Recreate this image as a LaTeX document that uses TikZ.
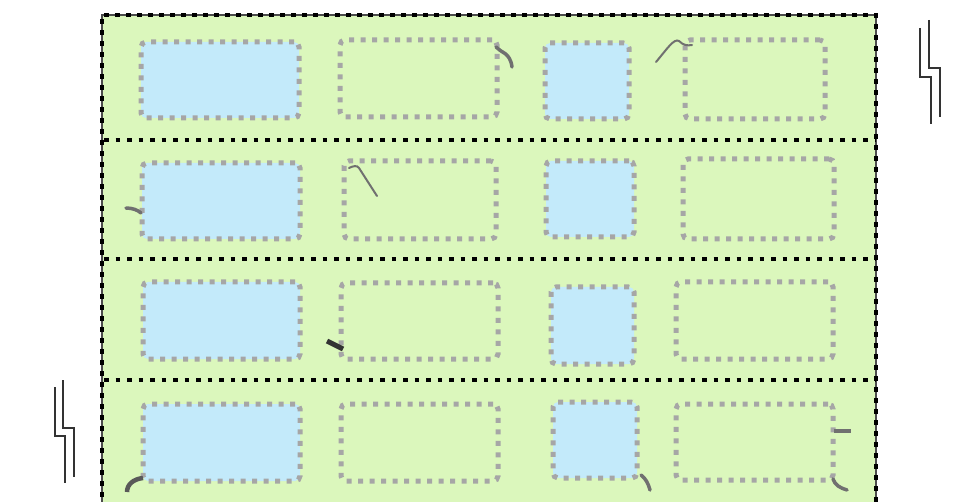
\documentclass[tikz,border=0pt]{standalone}
\usepackage{tikz}
\definecolor{panelgreen}{HTML}{DBF7BC}
\definecolor{cellblue}{HTML}{C3EAFA}
\definecolor{dotgray}{HTML}{A6A6A6}
\definecolor{inkgray}{HTML}{707070}

\begin{document}
\begin{tikzpicture}[
    x=1pt, y=-1pt,
    cell/.style={rectangle, draw=dotgray, line width=5pt, dash pattern=on 5pt off 6.5pt, rounded corners=5pt, inner sep=0pt, outer sep=0pt},
    full/.style={cell, fill=cellblue},
    divider/.style={draw=black, line width=4.7pt, dash pattern=on 4.7pt off 6.8pt},
    rim/.style={draw=black!70, line width=1.5pt},
    rimdash/.style={draw=black, line width=3.5pt, dash pattern=on 5pt off 6pt},
    scribble/.style={draw=inkgray, line width=3.5pt, line cap=round},
    thinscribble/.style={scribble, line width=2pt},
    breakline/.style={draw=black!80, line width=2pt}
]
\useasboundingbox (0,0) rectangle (971,502);
\clip (0,0) rectangle (971,502);

\fill[panelgreen] (102,15) rectangle (876,530);
\draw[rim] (102,530) |- (876,15) -- (876,530);
\draw[rimdash] (102,530) |- (876,15) -- (876,530);

\draw[divider] (104,140) -- (876,140);
\draw[divider] (104,259) -- (876,259);
\draw[divider] (104,380) -- (876,380);

\node[full, minimum width=158pt, minimum height=76pt] (cell11) at (220,80) {};
\node[cell, minimum width=157pt, minimum height=77pt] (cell12) at (418.5,78.5) {};
\node[full, minimum width=84pt, minimum height=76pt] (cell13) at (587,81) {};
\node[cell, minimum width=140pt, minimum height=79pt] (cell14) at (755,79.5) {};

\node[full, minimum width=158pt, minimum height=76pt] (cell21) at (221,201) {};
\node[cell, minimum width=152pt, minimum height=78pt] (cell22) at (420,200) {};
\node[full, minimum width=88pt, minimum height=76pt] (cell23) at (590,199) {};
\node[cell, minimum width=151pt, minimum height=80pt] (cell24) at (758.5,199) {};

\node[full, minimum width=157pt, minimum height=77pt] (cell31) at (221.5,320.5) {};
\node[cell, minimum width=157pt, minimum height=76pt] (cell32) at (419.5,321) {};
\node[full, minimum width=83pt, minimum height=77pt] (cell33) at (592.5,325.5) {};
\node[cell, minimum width=157pt, minimum height=77pt] (cell34) at (754.5,320.5) {};

\node[full, minimum width=157pt, minimum height=77pt] (cell41) at (221.5,442.5) {};
\node[cell, minimum width=157pt, minimum height=77pt] (cell42) at (419.5,442.5) {};
\node[full, minimum width=84pt, minimum height=76pt] (cell43) at (595,440) {};
\node[cell, minimum width=157pt, minimum height=76pt] (cell44) at (754.5,442) {};

\draw[scribble] (496,47) .. controls (501,53) and (510,52) .. (512,67);
\draw[thinscribble] (656,62) .. controls (667,49) and (674,38) .. (679,41) .. controls (683,45) and (687,46) .. (692,45);
\draw[thinscribble] (349,168) .. controls (353,166) and (357,165) .. (359,168) -- (377,196);
\draw[scribble] (126,208) .. controls (132,208) and (138,210) .. (141,213);
\draw[scribble, draw=black!80, line width=5pt, line cap=butt] (327,341) -- (343,349);
\draw[scribble, draw=black!65, line width=4.5pt, line cap=butt] (127,492) .. controls (127,484) and (134,479) .. (143,478);
\draw[scribble] (641,475) .. controls (646,479) and (648,483) .. (650,490);
\draw[scribble, line cap=butt] (834,431) -- (851,431);
\draw[scribble] (833,479) .. controls (835,485) and (840,488) .. (847,490);

\draw[breakline] (929,20) -- (929,68) -- (940,68) -- (940,117);
\draw[breakline] (920,28) -- (920,77) -- (931,77) -- (931,124);
\draw[breakline] (63,380) -- (63,428) -- (74,428) -- (74,477);
\draw[breakline] (55,387) -- (55,436) -- (65,436) -- (65,483);

\end{tikzpicture}
\end{document}
